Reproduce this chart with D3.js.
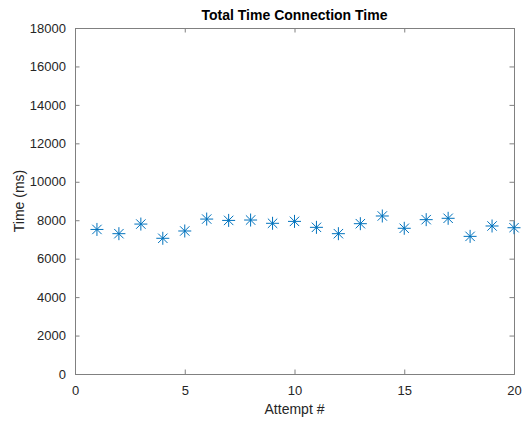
<!DOCTYPE html>
<html><head><meta charset="utf-8">
<script src="https://cdn.jsdelivr.net/npm/d3@7"></script>
<style>body{margin:0;background:#fff;}svg{display:block;font-family:"Liberation Sans",Arial,sans-serif;}</style>
</head><body>
<svg id="c" width="524" height="422"></svg>
<script>
const attempts = [1,2,3,4,5,6,7,8,9,10,11,12,13,14,15,16,17,18,19,20];
const times = [7520,7300,7800,7060,7440,8060,7990,8010,7840,7940,7630,7300,7820,8220,7580,8030,8100,7160,7700,7610];
const xTicks = [0,5,10,15,20];
const yTicks = [0,2000,4000,6000,8000,10000,12000,14000,16000,18000];
const title = "Total Time Connection Time";
const xLabel = "Attempt #";
const yLabel = "Time (ms)";

const L = 75, R = 514, T = 28, B = 374;
const svg = d3.select("#c");
const x = d3.scaleLinear().domain([0,20]).range([L,R]);
const y = d3.scaleLinear().domain([0,18000]).range([B,T]);
const axisCol = "#808080", textCol = "#262626";
const tl = 4.5;

// axes
const gx = svg.append("g").attr("transform",`translate(0,${B})`)
  .call(d3.axisBottom(x).tickValues(xTicks).tickSize(-tl).tickPadding(9).tickFormat(d3.format("d")));
const gxt = svg.append("g").attr("transform",`translate(0,${T})`)
  .call(d3.axisTop(x).tickValues(xTicks).tickSize(-tl).tickFormat(""));
const gy = svg.append("g").attr("transform",`translate(${L},0)`)
  .call(d3.axisLeft(y).tickValues(yTicks).tickSize(-tl).tickPadding(9).tickFormat(d3.format("d")));
const gyr = svg.append("g").attr("transform",`translate(${R},0)`)
  .call(d3.axisRight(y).tickValues(yTicks).tickSize(-tl).tickFormat(""));
[gx,gxt,gy,gyr].forEach(g=>{
  g.select(".domain").attr("stroke",axisCol);
  g.selectAll(".tick line").attr("stroke",axisCol);
  g.selectAll("text").attr("fill",textCol).attr("font-size",13).attr("font-family","Liberation Sans, Arial, sans-serif");
});
gx.selectAll("text").attr("dy","0.9em");

// markers
const col = "#0072BD";
const r = 6.5, rd = 4.7;
const m = svg.append("g").attr("stroke",col).attr("stroke-width",1).attr("fill","none");
attempts.forEach((a,i)=>{
  const cx = x(a), cy = y(times[i]);
  const p = `M${cx-r},${cy}H${cx+r}M${cx},${cy-r}V${cy+r}M${cx-rd},${cy-rd}L${cx+rd},${cy+rd}M${cx-rd},${cy+rd}L${cx+rd},${cy-rd}`;
  m.append("path").attr("d",p);
});

// labels
svg.append("text").attr("x",(L+R)/2).attr("y",20).attr("text-anchor","middle")
  .attr("font-weight","bold").attr("font-size",14).attr("fill","#000").text(title);
svg.append("text").attr("x",(L+R)/2).attr("y",414).attr("text-anchor","middle")
  .attr("font-size",14).attr("fill",textCol).text(xLabel);
svg.append("text").attr("transform",`translate(24,${(T+B)/2}) rotate(-90)`).attr("text-anchor","middle")
  .attr("font-size",14).attr("fill",textCol).text(yLabel);
</script>
</body></html>
